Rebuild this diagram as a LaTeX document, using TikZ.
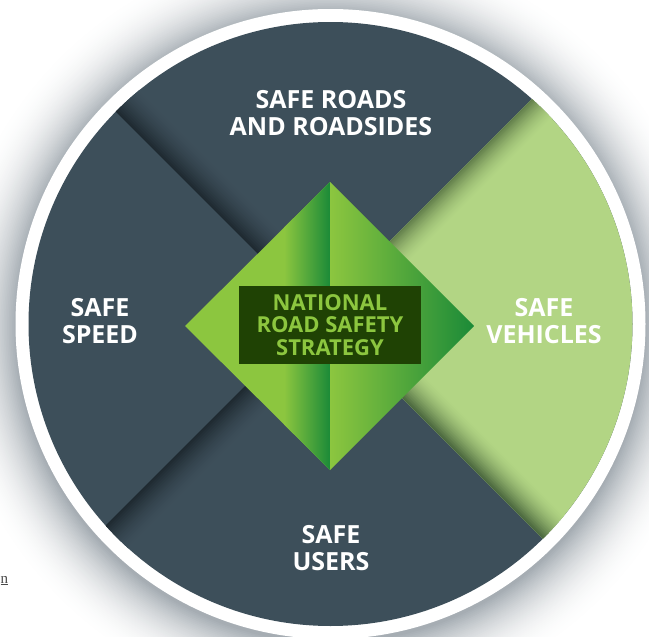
\documentclass[tikz,border=0pt]{standalone}
\usepackage{fontspec}
\setmainfont{Open Sans}
\newfontfamily\strayfont{Liberation Serif}
\definecolor{slate}{HTML}{3D4F5A}
\definecolor{slatedark}{HTML}{1E2930}
\definecolor{lgreen}{HTML}{B2D584}
\definecolor{lgreendarkA}{HTML}{637F4B}
\definecolor{lgreendarkB}{HTML}{4B683E}
\definecolor{dgreen}{HTML}{1B8A38}
\definecolor{mgreen}{HTML}{8CC63F}
\definecolor{boxgreen}{HTML}{1F4204}
\definecolor{shadowgray}{HTML}{6F7B85}
\definecolor{straygray}{HTML}{4A4A4A}
% gradient bands along a line: #1,#2 point on line; #3,#4 direction; #5,#6 normal; #7 width; #8 dark colour
\newcommand\mybands[8]{%
  \foreach \i in {0,...,29}{%
    \pgfmathsetmacro\sa{#7*\i/30}%
    \pgfmathsetmacro\sb{#7*(\i+1.5)/30}%
    \pgfmathsetmacro\pc{100*(1-\i/30)^1.6}%
    \fill[color=#8!\pc!\basecol]
      ({#1-60*#3+\sa*#5},{#2-60*#4+\sa*#6}) --
      ({#1+450*#3+\sa*#5},{#2+450*#4+\sa*#6}) --
      ({#1+450*#3+\sb*#5},{#2+450*#4+\sb*#6}) --
      ({#1-60*#3+\sb*#5},{#2-60*#4+\sb*#6}) -- cycle;
  }}
\begin{document}
\begin{tikzpicture}[x=1pt,y=-1pt,
  lbl/.style={text=white, inner sep=0pt, align=center,
    font=\bfseries\fontsize{25}{27}\selectfont},
  corebox/.style={fill=boxgreen, text=mgreen, inner sep=0pt, align=center,
    minimum width=182pt, minimum height=78pt,
    font=\bfseries\fontsize{22}{22.7}\selectfont}]
\useasboundingbox (0,0) rectangle (649,637);
\fill[white] (0,0) rectangle (649,637);
% drop shadow
\foreach \k in {0,...,45}{%
  \pgfmathsetmacro\dd{75*(1-\k/45)}%
  \pgfmathsetmacro\pp{62*(1-\dd/75)^2.2}%
  \fill[color=shadowgray!\pp!white] (330.5,328) circle[radius=315+\dd];
}
% white ring and disc
\fill[white] (330.5,324) circle[radius=315];
\fill[slate] (330.5,324) circle[radius=302];
\begin{scope}
  \clip (330.5,324) circle[radius=302];
  % right wedge (green)
  \begin{scope}
    \clip (317.5,313.5) -- (717.5,-86.5) -- (717.5,713.5) -- cycle;
    \fill[lgreen] (317.5,313.5) -- (717.5,-86.5) -- (717.5,713.5) -- cycle;
    \def\basecol{lgreen}
    \mybands{317.5}{313.5}{0.7071}{(-0.7071)}{0.7071}{0.7071}{28}{lgreendarkA}
    \mybands{317.5}{313.5}{0.7071}{0.7071}{0.7071}{(-0.7071)}{32}{lgreendarkB}
  \end{scope}
  % top wedge shadow
  \begin{scope}
    \clip (317.5,313.5) -- (-82.5,-86.5) -- (717.5,-86.5) -- cycle;
    \def\basecol{slate}
    \mybands{317.5}{313.5}{(-0.7071)}{(-0.7071)}{0.7071}{(-0.7071)}{32}{slatedark}
  \end{scope}
  % bottom wedge shadow
  \begin{scope}
    \clip (317.5,313.5) -- (-82.5,713.5) -- (717.5,713.5) -- cycle;
    \def\basecol{slate}
    \mybands{317.5}{313.5}{(-0.7071)}{0.7071}{0.7071}{0.7071}{32}{slatedark}
  \end{scope}
\end{scope}
% diamond, left half
\begin{scope}
  \clip (185,326) -- (330,182) -- (330,470) -- cycle;
  \fill[mgreen] (180,178) rectangle (331,475);
  \shade[left color=mgreen, right color=dgreen] (284,178) rectangle (330.2,475);
\end{scope}
% diamond, right half
\begin{scope}
  \clip (330,182) -- (474,326) -- (330,470) -- cycle;
  \shade[left color=mgreen, right color=dgreen] (330,178) rectangle (474,475);
\end{scope}
% centre box
\node[corebox] (core) at (330,325) {NATIONAL\\ROAD SAFETY\\STRATEGY};
% labels
\node[lbl] (roads) at (331,113.3) {SAFE ROADS\\AND ROADSIDES};
\node[lbl] (speed) at (100,320.8) {SAFE\\SPEED};
\node[lbl] (vehicles) at (544,320.8) {SAFE\\VEHICLES};
\node[lbl] (users) at (331,547.7) {SAFE\\USERS};
% small fragment at left edge
\node[anchor=base west, inner sep=0pt, text=straygray,
  font=\strayfont\fontsize{15}{15}\selectfont] (stray) at (0.5,583) {\underline{n}};
\end{tikzpicture}
\end{document}
